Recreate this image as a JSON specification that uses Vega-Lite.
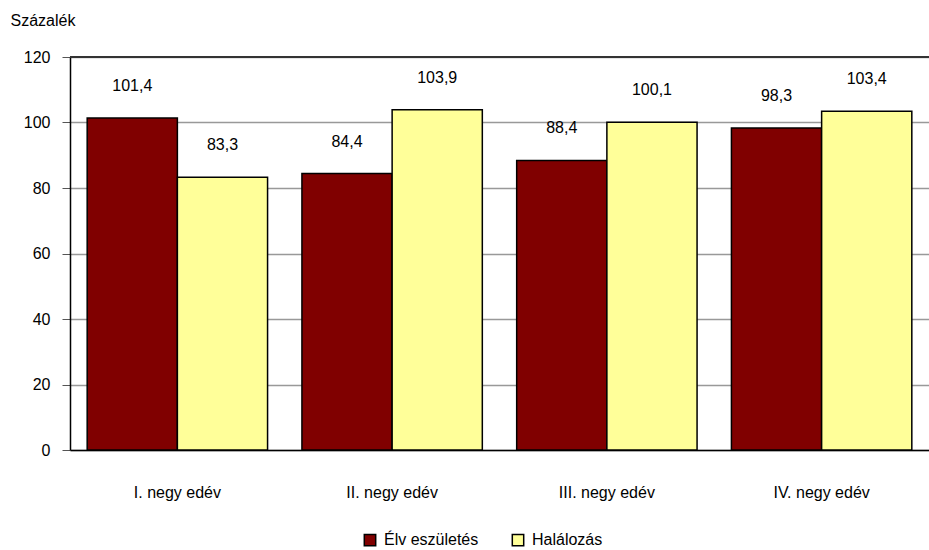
{
  "$schema": "https://vega.github.io/schema/vega-lite/v6.json",
  "width": 859,
  "height": 393,
  "autosize": {"type": "none"},
  "padding": {"left": 70, "top": 57, "right": 0, "bottom": 100},
  "config": {
    "font": "Liberation Sans",
    "view": {"stroke": null},
    "locale": {"number": {"decimal": ",", "thousands": " ", "grouping": [3], "currency": ["", ""]}},
    "axis": {"labelFontSize": 16, "labelColor": "#000", "titleColor": "#000", "titleFontWeight": "normal", "titleFontSize": 16}
  },
  "data": {
    "values": [
      {"quarter": "I. negy edév", "series": "Élv eszületés", "value": 101.4},
      {"quarter": "I. negy edév", "series": "Halálozás", "value": 83.3},
      {"quarter": "II. negy edév", "series": "Élv eszületés", "value": 84.4},
      {"quarter": "II. negy edév", "series": "Halálozás", "value": 103.9},
      {"quarter": "III. negy edév", "series": "Élv eszületés", "value": 88.4},
      {"quarter": "III. negy edév", "series": "Halálozás", "value": 100.1},
      {"quarter": "IV. negy edév", "series": "Élv eszületés", "value": 98.3},
      {"quarter": "IV. negy edév", "series": "Halálozás", "value": 103.4}
    ]
  },
  "encoding": {
    "x": {
      "field": "quarter", "type": "nominal",
      "sort": ["I. negy edév", "II. negy edév", "III. negy edév", "IV. negy edév"],
      "scale": {"paddingInner": 0.16, "paddingOuter": 0.08},
      "axis": {"title": null, "labelAngle": 0, "ticks": false, "labelPadding": 34, "domainColor": "#000", "domainWidth": 1.5, "grid": false}
    },
    "xOffset": {"field": "series", "type": "nominal", "sort": ["Élv eszületés", "Halálozás"], "scale": {"paddingInner": 0, "paddingOuter": 0}}
  },
  "layer": [
    {
      "mark": {"type": "bar", "stroke": "#000", "strokeWidth": 1.5},
      "encoding": {
        "y": {
          "field": "value", "type": "quantitative",
          "scale": {"domain": [0, 120], "nice": false},
          "axis": {
            "values": [0, 20, 40, 60, 80, 100, 120],
            "grid": true, "gridColor": "#999999", "gridWidth": 1.5,
            "domainColor": "#000", "domainWidth": 1.5,
            "tickColor": "#555", "tickSize": 8, "labelPadding": 12,
            "title": "Százalék", "titleAngle": 0, "titleAlign": "left", "titleBaseline": "middle",
            "titleX": -60, "titleY": -37
          }
        },
        "color": {
          "field": "series", "type": "nominal",
          "sort": ["Élv eszületés", "Halálozás"],
          "scale": {"domain": ["Élv eszületés", "Halálozás"], "range": ["#800000", "#FFFF99"]},
          "legend": {
            "title": null, "orient": "none", "direction": "horizontal",
            "legendX": 292, "legendY": 475,
            "symbolType": "square", "symbolSize": 130, "symbolStrokeColor": "#000", "symbolStrokeWidth": 1.5, "symbolOpacity": 1,
            "labelFontSize": 16, "labelColor": "#000", "labelOffset": 6, "columnPadding": 30
          }
        }
      }
    },
    {
      "mark": {"type": "text", "dy": -32, "fontSize": 16, "baseline": "middle", "color": "#000"},
      "encoding": {
        "y": {"field": "value", "type": "quantitative"},
        "text": {"field": "value", "type": "quantitative", "format": ".1f"}
      }
    },
    {
      "data": {"values": [{}]},
      "mark": {"type": "rule", "color": "#333333", "strokeWidth": 2},
      "encoding": {"y": {"datum": 120}, "x": null, "xOffset": null}
    }
  ]
}
